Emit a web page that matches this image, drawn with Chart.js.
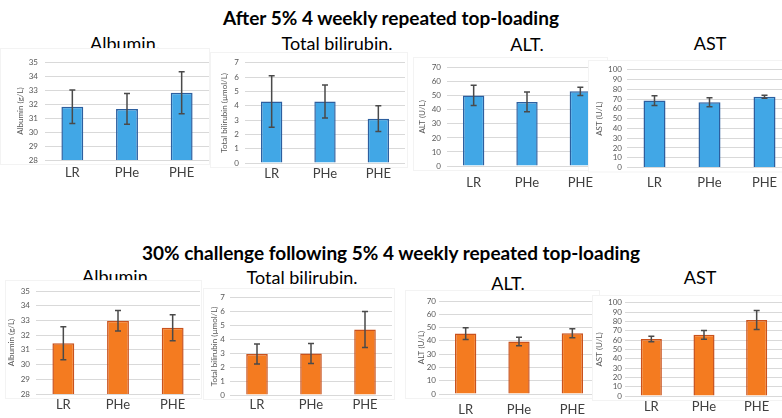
<!DOCTYPE html>
<html>
<head>
<meta charset="utf-8">
<script src="https://cdn.jsdelivr.net/npm/chart.js@4.4.1/dist/chart.umd.min.js"></script>
<style>
  body { margin:0; width:782px; height:418px; overflow:hidden; background:#fff; position:relative; font-family:Lato, "Open Sans", sans-serif; }
  .head { position:absolute; left:0; width:782px; text-align:center; font-weight:bold; font-size:19px; line-height:19px; color:#000; }
  .ttl { position:absolute; font-size:18px; line-height:18px; color:#000; transform:translateX(-50%); white-space:nowrap; z-index:1; }
  canvas { position:absolute; }
</style>
</head>
<body>
<div class="head" style="top:8px">After 5% 4 weekly repeated top-loading</div>
<div class="head" style="top:243px">30% challenge following 5% 4 weekly repeated top-loading</div>
<script>
var groups = ['LR', 'PHe', 'PHE'];

// after 5% 4 weekly repeated top-loading (mean, error)
var albuminTop = [31.8, 31.65, 32.8];
var albuminTopErr = [1.2, 1.1, 1.5];
var biliTop = [4.3, 4.3, 3.1];
var biliTopErr = [1.8, 1.15, 0.9];
var altTop = [50.3, 45.7, 53.2];
var altTopErr = [7.2, 7.0, 3.0];
var astTop = [68.5, 66.8, 72.5];
var astTopErr = [5.0, 4.6, 1.5];

// 30% challenge following 5% 4 weekly repeated top-loading
var albuminBot = [31.45, 32.98, 32.5];
var albuminBotErr = [1.12, 0.7, 0.88];
var biliBot = [2.95, 2.98, 4.72];
var biliBotErr = [0.72, 0.72, 1.3];
var altBot = [45.5, 39.5, 45.8];
var altBotErr = [4.4, 3.2, 3.4];
var astBot = [61.2, 65.6, 81.6];
var astBotErr = [3.0, 4.8, 10.2];

// y axis ranges: min, max, step
var albuminTicks = [28, 35, 1];
var biliTicks = [0, 7, 1];
var altTicks = [0, 70, 10];
var astTicks = [0, 100, 10];

var blue = ['#41a7e6', '#2d5f9f'];
var orange = ['#f47b20', '#c9521d'];
var FONT = 'Lato, "Open Sans", sans-serif';

// panel boxes: box left/top, plot left/top/right/bottom, title position
var panels = [
  { title:'Albumin.', axis:'Albumin (g/L)', vals:albuminTop, err:albuminTopErr, tk:albuminTicks, col:blue,
    bl:0, bt:48, pl:45, pt:62, pr:209, pb:160, extra:1, tpad:16, kpad:7, lpad:13, tx:125, ty:34, z:2 },
  { title:'Total bilirubin.', axis:'Total bilirubin (\u00b5mol/L)', vals:biliTop, err:biliTopErr, tk:biliTicks, col:blue,
    bl:210, bt:52, pl:245, pt:62, pr:405, pb:163, extra:3, tpad:10, kpad:6, lpad:11, tx:337, ty:34, z:2 },
  { title:'ALT.', axis:'ALT (U/L)', vals:altTop, err:altTopErr, tk:altTicks, col:blue,
    bl:413, bt:57, pl:447, pt:67, pr:607, pb:166, extra:1, tpad:5, kpad:6, lpad:17, tx:527, ty:35, z:2 },
  { title:'AST', axis:'AST (U/L)', vals:astTop, err:astTopErr, tk:astTicks, col:blue,
    bl:588, bt:60, pl:627, pt:67, pr:792, pb:167.5, extra:0, tpad:7, kpad:5, lpad:15.5, tx:710, ty:34, z:3 },
  { title:'Albumin.', axis:'Albumin (g/L)', vals:albuminBot, err:albuminBotErr, tk:albuminTicks, col:orange,
    bl:5, bt:280, pl:36, pt:291, pr:200, pb:394, extra:2, tpad:2, kpad:6, lpad:11, tx:117, ty:267, z:2 },
  { title:'Total bilirubin.', axis:'Total bilirubin (\u00b5mol/L)', vals:biliBot, err:biliBotErr, tk:biliTicks, col:orange,
    bl:203, bt:288, pl:230, pt:297, pr:392, pb:395, extra:3, tpad:7, kpad:5, lpad:10, tx:302, ty:268, z:2 },
  { title:'ALT.', axis:'ALT (U/L)', vals:altBot, err:altBotErr, tk:altTicks, col:orange,
    bl:405, bt:290, pl:439, pt:301, pr:599, pb:394, extra:1, tpad:12, kpad:3, lpad:16, tx:508, ty:274, z:2 },
  { title:'AST', axis:'AST (U/L)', vals:astBot, err:astBotErr, tk:astTicks, col:orange,
    bl:592, bt:295, pl:625, pt:302, pr:783, pb:396, extra:0, tpad:3, kpad:3, lpad:11, tx:700, ty:268, z:3 }
];

// white panel with a faint edge, ending a little below the axis
var panelBox = {
  id:'panelBox',
  beforeDraw(chart, args, opts){
    const ctx = chart.ctx;
    ctx.save();
    ctx.fillStyle = '#fff';
    ctx.fillRect(0, 0, chart.width, opts.h);
    ctx.strokeStyle = '#f3f3f3';
    ctx.lineWidth = 1;
    ctx.strokeRect(0.5, 0.5, chart.width - 1, opts.h - 1);
    ctx.restore();
  }
};

var errBars = {
  id:'errBars',
  afterDatasetsDraw(chart){
    const ctx = chart.ctx, y = chart.scales.y;
    chart.data.datasets.forEach((ds, i) => {
      chart.getDatasetMeta(i).data.forEach((bar, j) => {
        const hi = y.getPixelForValue(ds.data[j] + ds.err[j]);
        const lo = y.getPixelForValue(ds.data[j] - ds.err[j]);
        ctx.save();
        ctx.strokeStyle = '#4a4a4a';
        ctx.lineWidth = 1.5;
        ctx.beginPath();
        ctx.moveTo(bar.x, hi); ctx.lineTo(bar.x, lo);
        ctx.moveTo(bar.x - 3, hi); ctx.lineTo(bar.x + 3, hi);
        ctx.moveTo(bar.x - 3, lo); ctx.lineTo(bar.x + 3, lo);
        ctx.stroke();
        ctx.restore();
      });
    });
  }
};

panels.forEach(p => {
  const t = document.createElement('div');
  t.className = 'ttl';
  t.textContent = p.title;
  t.style.left = p.tx + 'px';
  t.style.top = p.ty + 'px';
  document.body.appendChild(t);

  const cv = document.createElement('canvas');
  const w = Math.round(p.pr - p.bl + p.extra);
  const h = Math.round(p.pb - p.bt + 26);
  cv.width = w; cv.height = h;
  cv.style.left = p.bl + 'px';
  cv.style.top = p.bt + 'px';
  cv.style.zIndex = p.z;
  document.body.appendChild(cv);

  new Chart(cv.getContext('2d'), {
    type:'bar',
    data:{
      labels: groups,
      datasets:[{
        data: p.vals,
        err: p.err,
        backgroundColor: p.col[0],
        borderColor: p.col[1],
        borderWidth: 1.5,
        barPercentage: 0.4,
        categoryPercentage: 1
      }]
    },
    options:{
      responsive:false,
      animation:false,
      layout:{ padding:{ top: p.pt - p.bt, right: p.extra, left:0, bottom:0 } },
      plugins:{
        legend:{ display:false },
        tooltip:{ enabled:false },
        panelBox:{ h: p.pb - p.bt + 5 }
      },
      scales:{
        x:{
          grid:{ display:false, drawTicks:false },
          border:{ display:false },
          ticks:{ color:'#404040', font:{ family:FONT, size:13 }, padding: p.lpad - 8 },
          afterFit: s => { s.height = h - (p.pb - p.bt); }
        },
        y:{
          min: p.tk[0], max: p.tk[1],
          ticks:{ stepSize: p.tk[2], autoSkip:false, color:'#595959', font:{ family:FONT, size:8 }, padding:p.kpad },
          grid:{ color:'#d9d9d9', drawTicks:false },
          border:{ display:false },
          title:{ display:true, text:p.axis, color:'#595959', font:{ family:FONT, size:8 }, padding:{ top:p.tpad, bottom:0 } },
          afterFit: s => { s.width = p.pl - p.bl; }
        }
      }
    },
    plugins:[panelBox, errBars]
  });
});
</script>
</body>
</html>
